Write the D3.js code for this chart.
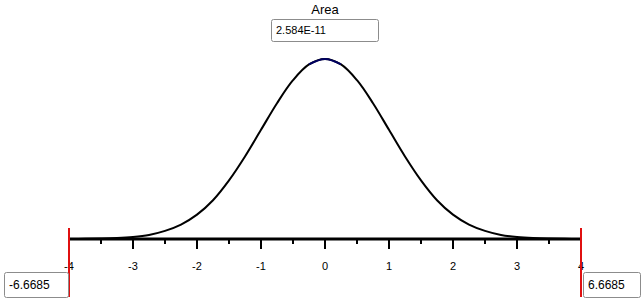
<!DOCTYPE html>
<html>
<head>
<meta charset="utf-8">
<script src="https://cdn.jsdelivr.net/npm/d3@7"></script>
<style>
body { margin: 0; background: #fff; }
svg { display: block; font-family: "Liberation Sans", Arial, sans-serif; }
</style>
</head>
<body>
<svg width="644" height="301"></svg>
<script>
// density values (right half, mirrored for the left)
let zs = [0, 0.25, 0.5, 0.75, 1, 1.25, 1.5, 1.75, 2, 2.25, 2.5, 2.75, 3, 3.25, 3.5, 3.75, 4];
let dens = [0.399, 0.387, 0.352, 0.301, 0.242, 0.183, 0.130, 0.086, 0.054, 0.032, 0.018, 0.009, 0.0044, 0.002, 0.0009, 0.0004, 0.0001];
let majorTicks = [-4, -3, -2, -1, 0, 1, 2, 3, 4];
let minorTicks = [-3.5, -2.5, -1.5, -0.5, 0.5, 1.5, 2.5, 3.5];
let areaLabel = 'Area', areaValue = '2.584E-11';
let lowerBound = '-6.6685', upperBound = '6.6685';

let svg = d3.select('svg');
let x = d3.scaleLinear().domain([-4, 4]).range([69, 581]);
let y = d3.scaleLinear().domain([0, 0.399]).range([239, 59]);

let pts = [];
for (let i = zs.length - 1; i > 0; i--) pts.push([-zs[i], dens[i]]);
for (let i = 0; i < zs.length; i++) pts.push([zs[i], dens[i]]);

let line = d3.line()
    .x(function(d) { return x(d[0]); })
    .y(function(d) { return y(d[1]); })
    .curve(d3.curveCatmullRom);

// axis
svg.append('line')
    .attr('x1', x(-4)).attr('x2', x(4))
    .attr('y1', 239).attr('y2', 239)
    .attr('stroke', '#000').attr('stroke-width', 3);

svg.selectAll('.major')
    .data(majorTicks)
    .join('line')
    .attr('x1', function(d) { return x(d); })
    .attr('x2', function(d) { return x(d); })
    .attr('y1', 239).attr('y2', 249)
    .attr('stroke', '#000').attr('stroke-width', 2);

svg.selectAll('.minor')
    .data(minorTicks)
    .join('line')
    .attr('x1', function(d) { return x(d); })
    .attr('x2', function(d) { return x(d); })
    .attr('y1', 239).attr('y2', 244)
    .attr('stroke', '#000').attr('stroke-width', 2);

svg.selectAll('.lbl')
    .data(majorTicks)
    .join('text')
    .attr('x', function(d) { return x(d); })
    .attr('y', 270)
    .attr('text-anchor', 'middle')
    .attr('font-size', 11)
    .text(function(d) { return d; });

// curve
svg.append('path')
    .datum(pts)
    .attr('d', line)
    .attr('fill', 'none')
    .attr('stroke', '#000')
    .attr('stroke-width', 2);

// small dark blue cap at the peak
svg.append('path')
    .datum(pts.filter(function(d) { return Math.abs(d[0]) <= 0.25; }))
    .attr('d', line)
    .attr('fill', 'none')
    .attr('stroke', '#000060')
    .attr('stroke-width', 2);

// red bound lines
[-4, 4].forEach(function(v) {
    svg.append('line')
        .attr('x1', x(v)).attr('x2', x(v))
        .attr('y1', 228).attr('y2', 297)
        .attr('stroke', '#e01010').attr('stroke-width', 2);
});

function box(x0, y0, w, h, txt, fs) {
    svg.append('rect')
        .attr('x', x0 + 0.5).attr('y', y0 + 0.5)
        .attr('width', w).attr('height', h)
        .attr('rx', 2)
        .attr('fill', '#fff')
        .attr('stroke', '#8c8c8c');
    svg.append('text')
        .attr('x', x0 + 5).attr('y', y0 + h / 2 + 4)
        .attr('font-size', fs)
        .text(txt);
}

box(4, 272, 64, 25, lowerBound, 12);
box(583, 272, 57, 25, upperBound, 12);
box(271, 19, 107, 22, areaValue, 11);

svg.append('text')
    .attr('x', 325).attr('y', 14)
    .attr('text-anchor', 'middle')
    .attr('font-size', 13)
    .text(areaLabel);
</script>
</body>
</html>
